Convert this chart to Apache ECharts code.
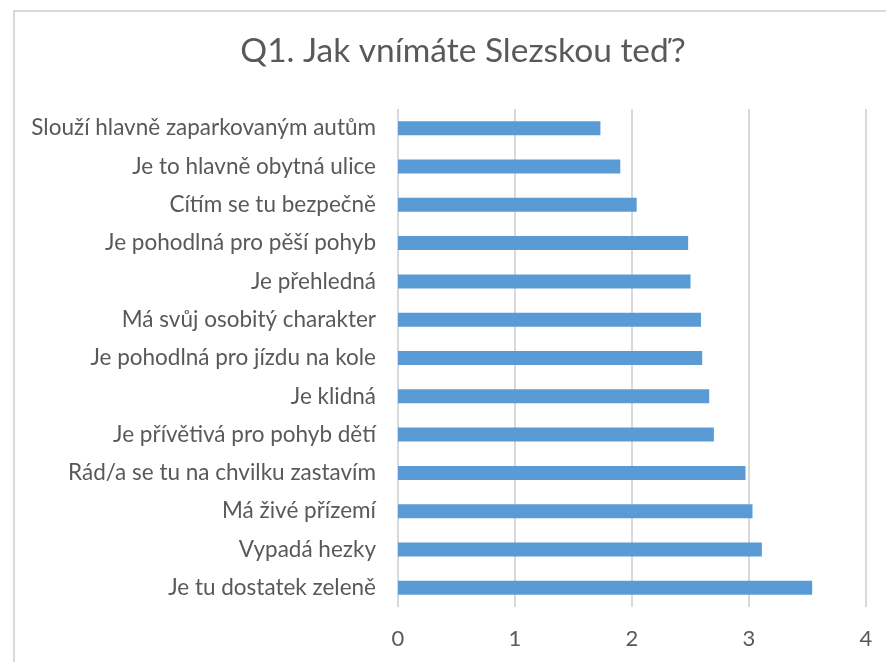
<!DOCTYPE html>
<html>
<head>
<meta charset="utf-8">
<script src="https://cdn.jsdelivr.net/npm/echarts@6/dist/echarts.min.js"></script>
<style>
  html, body { margin: 0; padding: 0; background: #fff; overflow: hidden; }
  #chart { width: 886px; height: 662px; position: absolute; left: 0; top: 0; }
  #frame { position: absolute; left: 13px; top: 10px; width: 1000px; height: 1000px;
           border: 2px solid #d9d9d9; pointer-events: none; box-sizing: border-box; }
</style>
</head>
<body>
<div id="chart"></div>
<div id="frame"></div>
<script>
const titleText = 'Q1. Jak vnímáte Slezskou teď?';
const categories = [
  'Slouží hlavně zaparkovaným autům',
  'Je to hlavně obytná ulice',
  'Cítím se tu bezpečně',
  'Je pohodlná pro pěší pohyb',
  'Je přehledná',
  'Má svůj osobitý charakter',
  'Je pohodlná pro jízdu na kole',
  'Je klidná',
  'Je přívětivá pro pohyb dětí',
  'Rád/a se tu na chvilku zastavím',
  'Má živé přízemí',
  'Vypadá hezky',
  'Je tu dostatek zeleně'
];
const values = [1.73, 1.90, 2.04, 2.48, 2.50, 2.59, 2.60, 2.66, 2.70, 2.97, 3.03, 3.11, 3.54];
const axisMin = 0, axisMax = 4, axisStep = 1;

const font = 'Lato, "Open Sans", sans-serif';
const chart = echarts.init(document.getElementById('chart'), null, { renderer: 'canvas' });
chart.setOption({
  animation: false,
  backgroundColor: '#ffffff',
  title: {
    text: titleText,
    left: 458, top: 29, textAlign: 'center',
    textStyle: { fontFamily: font, fontSize: 33.5, fontWeight: 'normal', color: '#595959' }
  },
  grid: { left: 398, right: 20, top: 109, bottom: 55, containLabel: false },
  xAxis: {
    type: 'value', min: axisMin, max: axisMax, interval: axisStep,
    axisLine: { show: false }, axisTick: { show: false },
    splitLine: { show: true, lineStyle: { color: '#d9d9d9', width: 2 } },
    axisLabel: { fontFamily: font, fontSize: 22, color: '#595959', margin: 21 }
  },
  yAxis: {
    type: 'category', data: categories, inverse: true,
    axisLine: { show: false }, axisTick: { show: false },
    axisLabel: { fontFamily: font, fontSize: 22.5, color: '#595959', margin: 22 }
  },
  series: [{
    type: 'bar', data: values, barWidth: 14,
    itemStyle: { color: '#5b9bd5' }
  }]
});
</script>
</body>
</html>
